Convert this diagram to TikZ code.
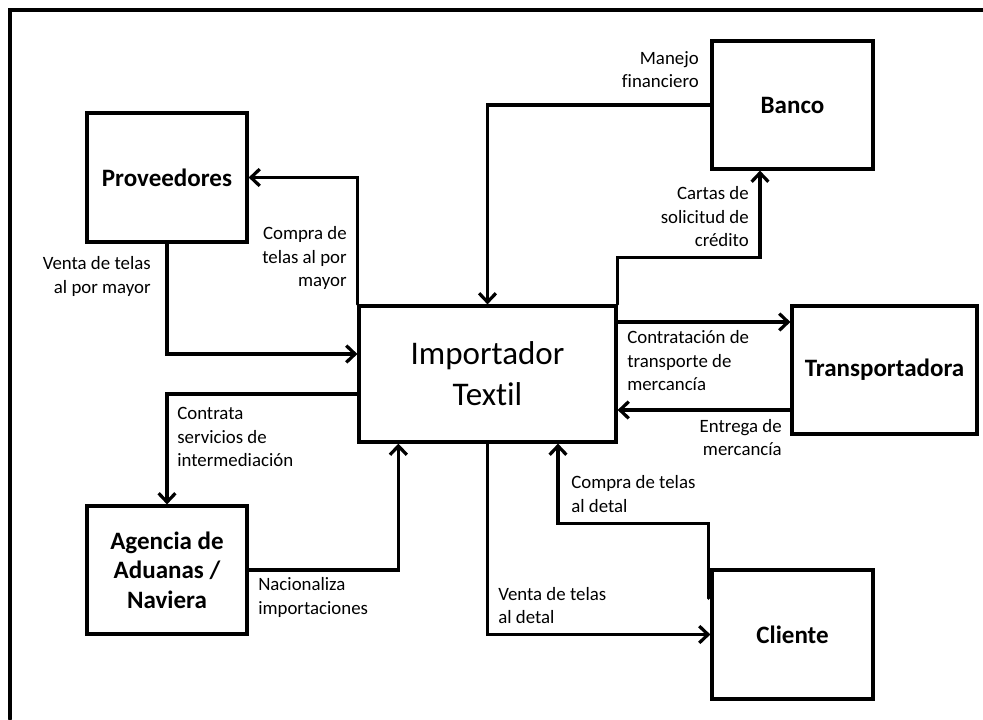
\documentclass[tikz,border=0pt]{standalone}
\usepackage{fontspec}
\setmainfont{Carlito}[Ligatures=NoCommon]
\usetikzlibrary{arrows.meta,calc}

\begin{document}
\begin{tikzpicture}[line cap=round,
  >={Straight Barb[length=0.22cm,width=0.42cm]},
  flow/.style={line width=2.3pt,->},
  actor/.style={draw,line width=2.3pt,minimum width=4cm,minimum height=3.2cm,
    align=center,font=\fontsize{17.8}{21}\selectfont\bfseries},
  tag/.style={inner sep=0pt,font=\fontsize{13.4}{16.7}\selectfont}]
  \useasboundingbox (0,0) rectangle (24.575,17.975);
  \draw[line width=2.3pt] (0.25,0) -- (0.25,17.725) -- (24.575,17.725);

  \node[actor,minimum height=3.225cm] (prov) at (4.175,13.5375) {Proveedores};
  \node[actor,minimum width=4.025cm] (ban) at (19.8125,15.35) {Banco};
  \node[actor] (age) at (4.175,3.725) {Agencia de\\Aduanas /\\Naviera};
  \node[actor,minimum width=4.025cm,minimum height=3.225cm] (cli) at (19.8125,2.1125) {Cliente};
  \node[actor,minimum width=4.625cm] (tra) at (22.1125,8.725) {Transportadora};
  \node[actor,minimum width=6.425cm,minimum height=3.4cm,
    font=\fontsize{23.5}{29.2}\selectfont] (imp) at (12.1875,8.625) {Importador\\Textil};

  \draw[flow] (imp.north west) |- (prov.east);
  \draw[flow] (prov.south) |- ($(imp.west)+(0,0.5)$);
  \draw[flow] ($(imp.west)+(0,-0.5)$) -| (age.north);
  \draw[flow] (age.east) -| ($(imp.south west)+(1.025,0)$);
  \draw[flow] (imp.south) |- (cli.west);
  \coordinate (cliout) at ($(cli.north west)+(-0.05,-0.75)$);
  \draw[flow] (cliout) |- ($(imp.south)+(1.7625,-2)$) -- ($(imp.south)+(1.7625,0)$);
  \draw[flow] (ban.west) -| (imp.north);
  \draw[flow] (imp.north east) -- ++(0,1.175) -| ($(ban.south)+(-0.8125,0)$);
  \coordinate (totra) at ($(imp.east)+(0,1.3)$);
  \draw[flow] (totra) -- (totra -| tra.west);
  \coordinate (fromtra) at ($(imp.east)+(0,-0.9)$);
  \draw[flow] (fromtra -| tra.west) -- (fromtra);

  \node[tag,anchor=east,align=right] (lblman) at (17.475,16.2375) {Manejo\\financiero};
  \node[tag,anchor=east,align=right] (lblcar) at (18.725,12.55) {Cartas de\\solicitud de\\crédito};
  \node[tag,anchor=east,align=right] (lblcpm) at (8.675,11.525) {Compra de\\telas al por\\mayor};
  \node[tag,anchor=east,align=right] (lblvpm) at (3.775,11.0625) {Venta de telas\\al por mayor};
  \node[tag,anchor=west,align=left] (lblcon) at (4.425,7.05) {Contrata\\servicios de\\intermediación};
  \node[tag,anchor=west,align=left] (lblcde) at (14.275,5.625) {Compra de telas\\al detal};
  \node[tag,anchor=west,align=left] (lblvde) at (12.45,2.8375) {Venta de telas\\al detal};
  \node[tag,anchor=west,align=left] (lblnac) at (6.45,3.0375) {Nacionaliza\\importaciones};
  \node[tag,anchor=west,align=left] (lbltra) at (15.675,8.95) {Contratación de\\transporte de\\mercancía};
  \node[tag,anchor=east,align=right] (lblent) at (19.55,7.0375) {Entrega de\\mercancía};
\end{tikzpicture}
\end{document}
